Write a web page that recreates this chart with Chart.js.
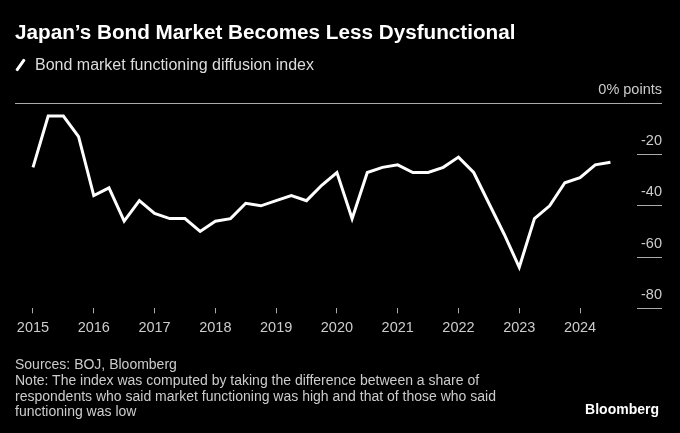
<!DOCTYPE html>
<html>
<head>
<meta charset="utf-8">
<script src="https://cdn.jsdelivr.net/npm/chart.js@4.4.1/dist/chart.umd.min.js"></script>
<style>
  html, body { margin: 0; padding: 0; background: #000; }
  body { width: 680px; height: 433px; position: relative; overflow: hidden; font-family: "Liberation Sans", Arial, sans-serif; }
  #c { position: absolute; left: 0; top: 0; }
  .t { position: absolute; white-space: nowrap; }
  #title { left: 15px; top: 20px; font-size: 20.7px; line-height: 24px; font-weight: bold; color: #fff; }
  #sub { left: 35px; top: 55px; font-size: 16px; line-height: 20px; color: #ddd; }
  #slash { position: absolute; left: 19px; top: 58px; width: 3px; height: 14px; background: #fff; transform: rotate(35deg); border-radius: 1px; }
  #foot { left: 15px; top: 357px; font-size: 14px; line-height: 15.8px; color: #ccc; }
  #logo { right: 21px; top: 400px; font-size: 14px; line-height: 18px; font-weight: bold; color: #fff; }
</style>
</head>
<body>
<canvas id="c" width="680" height="433"></canvas>
<div class="t" id="title">Japan’s Bond Market Becomes Less Dysfunctional</div>
<div id="slash"></div>
<div class="t" id="sub">Bond market functioning diffusion index</div>
<div class="t" id="foot">Sources: BOJ, Bloomberg<br>Note: The index was computed by taking the difference between a share of<br>respondents who said market functioning was high and that of those who said<br>functioning was low</div>
<div class="t" id="logo">Bloomberg</div>
<script>
const quarterLabels = [
  "2015-Q1","2015-Q2","2015-Q3","2015-Q4",
  "2016-Q1","2016-Q2","2016-Q3","2016-Q4",
  "2017-Q1","2017-Q2","2017-Q3","2017-Q4",
  "2018-Q1","2018-Q2","2018-Q3","2018-Q4",
  "2019-Q1","2019-Q2","2019-Q3","2019-Q4",
  "2020-Q1","2020-Q2","2020-Q3","2020-Q4",
  "2021-Q1","2021-Q2","2021-Q3","2021-Q4",
  "2022-Q1","2022-Q2","2022-Q3","2022-Q4",
  "2023-Q1","2023-Q2","2023-Q3","2023-Q4",
  "2024-Q1","2024-Q2","2024-Q3"
];
const diffusionIndex = [
  -25, -5, -5, -13,
  -36, -33, -46, -38,
  -43, -45, -45, -50,
  -46, -45, -39, -40,
  -38, -36, -38, -32,
  -27, -45, -27, -25,
  -24, -27, -27, -25,
  -21, -27, -39, -51,
  -64, -45, -40, -31,
  -29, -24, -23
];
const yearTicks = [2015, 2016, 2017, 2018, 2019, 2020, 2021, 2022, 2023, 2024];
const valueTicks = [0, -20, -40, -60, -80];

const points = quarterLabels.map((q, i) => {
  const [yr, qq] = q.split("-Q");
  return { x: parseInt(yr, 10) + (parseInt(qq, 10) - 1) / 4, y: diffusionIndex[i] };
});

const FONT = "'Liberation Sans', Arial, sans-serif";

new Chart(document.getElementById("c"), {
  type: "line",
  data: {
    datasets: [{
      label: "Bond market functioning diffusion index",
      data: points,
      borderColor: "#ffffff",
      borderWidth: 3,
      pointRadius: 0,
      tension: 0,
      fill: false
    }]
  },
  options: {
    responsive: false,
    animation: false,
    events: [],
    layout: { padding: { top: 103.3, left: 15, right: 18, bottom: 94.7 } },
    plugins: { legend: { display: false }, tooltip: { enabled: false }, title: { display: false } },
    scales: {
      x: {
        type: "linear",
        position: "bottom",
        min: 2014.704,
        max: 2024.937,
        afterBuildTicks: (s) => { s.ticks = yearTicks.map(v => ({ value: v })); },
        afterFit: (s) => { s.height = 30; },
        grid: { drawOnChartArea: false, drawTicks: true, tickLength: 5, tickColor: "#aaaaaa", lineWidth: 1 },
        border: { display: false },
        ticks: { color: "#cccccc", font: { family: FONT, size: 14.5 }, padding: 6, maxRotation: 0, autoSkip: false, callback: (v) => String(v) }
      },
      y: {
        position: "right",
        min: -80,
        max: 0,
        afterBuildTicks: (s) => { s.ticks = valueTicks.map(v => ({ value: v })); },
        afterFit: (s) => { s.width = 25; },
        grid: {
          drawOnChartArea: true,
          drawTicks: true,
          tickLength: 25,
          color: (ctx) => (ctx.tick && ctx.tick.value === 0 ? "#aaaaaa" : "rgba(0,0,0,0)"),
          tickColor: "#aaaaaa",
          lineWidth: 1
        },
        border: { display: false },
        ticks: {
          color: "#cccccc",
          font: { family: FONT, size: 14.5 },
          mirror: true,
          crossAlign: "near",
          padding: 25,
          labelOffset: -13.5,
          autoSkip: false,
          callback: (v) => (v === 0 ? "0% points" : String(v))
        }
      }
    }
  }
});
</script>
</body>
</html>
